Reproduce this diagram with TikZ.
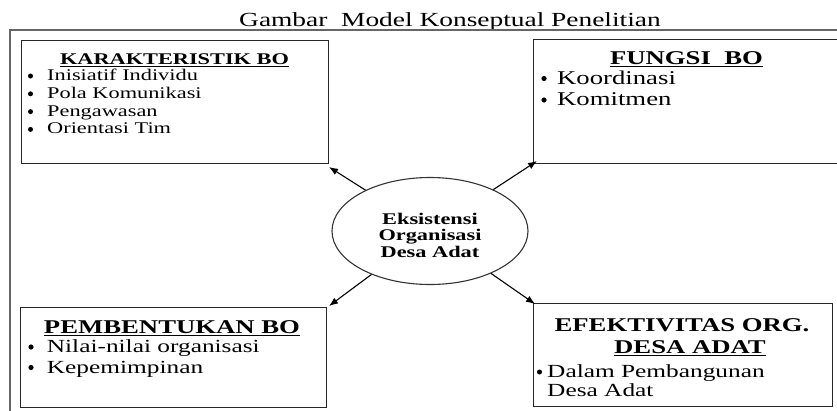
\documentclass[tikz,border=0pt]{standalone}
\usepackage{fontspec}
\setmainfont{Liberation Serif}[FakeStretch=1.37]
\usetikzlibrary{arrows.meta,shapes.geometric}
\begin{document}
\begin{tikzpicture}[x=1pt,y=-1pt,
  frame/.style={draw=black!60,line width=1.6pt},
  box/.style={draw=black!85,line width=1.1pt,inner sep=0pt,anchor=north west},
  txt/.style={inner sep=0pt,anchor=base west},
  ctr/.style={inner sep=0pt,anchor=base},
  hd/.style={ctr,font=\bfseries\fontsize{19.5}{22}\selectfont},
  hdsmall/.style={ctr,font=\bfseries\fontsize{16.3}{18}\selectfont},
  itm/.style={txt,font=\fontsize{19.5}{22}\selectfont},
  itmmid/.style={txt,font=\fontsize{18.5}{21}\selectfont},
  itmsmall/.style={txt,font=\fontsize{16.3}{18}\selectfont},
  eltext/.style={ctr,font=\bfseries\fontsize{16.3}{18}\selectfont},
  uline/.style={line width=1.2pt},
  arr/.style={line width=1.1pt,-{Latex[length=9pt,width=7pt]}},
  bul/.style={fill=black}
]
\useasboundingbox (0,0) rectangle (837,410);
\clip (0,0) rectangle (837,410);

% title
\node[ctr,font=\fontsize{20}{24}\selectfont] (title) at (450,26.5) {Gambar\ \ Model Konseptual Penelitian};

% outer frame
\draw[frame] (10,440) -- (10,30) -- (850,30);

% boxes
\node[box,minimum width=307pt,minimum height=123pt] (b1) at (21,40) {};
\node[box,minimum width=310pt,minimum height=124pt] (b2) at (533,39) {};
\node[box,minimum width=306pt,minimum height=100pt] (b3) at (20,307) {};
\node[box,minimum width=299pt,minimum height=103pt] (b4) at (533,303) {};

% box 1
\node[hdsmall] (h1) at (174.5,64) {KARAKTERISTIK BO};
\draw[uline] ([yshift=-2.3pt]h1.base west) -- ([yshift=-2.3pt]h1.base east);
\node[itmsmall] (i11) at (47,80.5) {Inisiatif Individu};
\node[itmsmall] (i12) at (47,98.3) {Pola Komunikasi};
\node[itmsmall] (i13) at (47,116.1) {Pengawasan};
\node[itmsmall] (i14) at (47,133.9) {Orientasi Tim};
\fill[bul] (30.5,76) circle (2.5);
\fill[bul] (30.5,93.8) circle (2.5);
\fill[bul] (30.5,111.6) circle (2.5);
\fill[bul] (30.5,129.4) circle (2.5);

% box 2
\node[hd] (h2) at (686.5,64) {FUNGSI\ \ BO};
\draw[uline] ([yshift=-2.6pt]h2.base west) -- ([yshift=-2.6pt]h2.base east);
\node[itm] (i21) at (557,84) {Koordinasi};
\node[itm] (i22) at (557,105.5) {Komitmen};
\fill[bul] (544,78.5) circle (2.6);
\fill[bul] (544,100) circle (2.6);

% box 3
\node[hd] (h3) at (172,333) {PEMBENTUKAN BO};
\draw[uline] ([yshift=-2.6pt]h3.base west) -- ([yshift=-2.6pt]h3.base east);
\node[itmmid] (i31) at (46.7,352.5) {Nilai-nilai organisasi};
\node[itmmid] (i32) at (46.7,373) {Kepemimpinan};
\fill[bul] (31,347) circle (2.6);
\fill[bul] (31,367.5) circle (2.6);

% box 4
\node[hd] (h4) at (682,331) {EFEKTIVITAS ORG.};
\node[hd] (h4b) at (690,353) {DESA ADAT};
\draw[uline] ([yshift=-2.6pt]h4b.base west) -- ([yshift=-2.6pt]h4b.base east);
\node[itmmid] (i41) at (547,377.5) {Dalam Pembangunan};
\node[itmmid] (i42) at (547,396) {Desa Adat};
\fill[bul] (539.5,372) circle (2.5);

% ellipse
\node[draw=black!80,line width=1.1pt,ellipse,minimum width=196pt,minimum height=107pt,inner sep=0pt] (el) at (430,231) {};
\node[eltext] (e1) at (430,224) {Eksistensi};
\node[eltext] (e2) at (430,240.5) {Organisasi};
\node[eltext] (e3) at (430,257) {Desa Adat};

% arrows
\coordinate (t1) at (329,167);
\coordinate (t2) at (537,161);
\coordinate (t3) at (329,306);
\coordinate (t4) at (535,304);
\draw[arr] (el) -- (t1);
\draw[arr] (el) -- (t2);
\draw[arr] (el) -- (t3);
\draw[arr] (el) -- (t4);
\end{tikzpicture}
\end{document}
